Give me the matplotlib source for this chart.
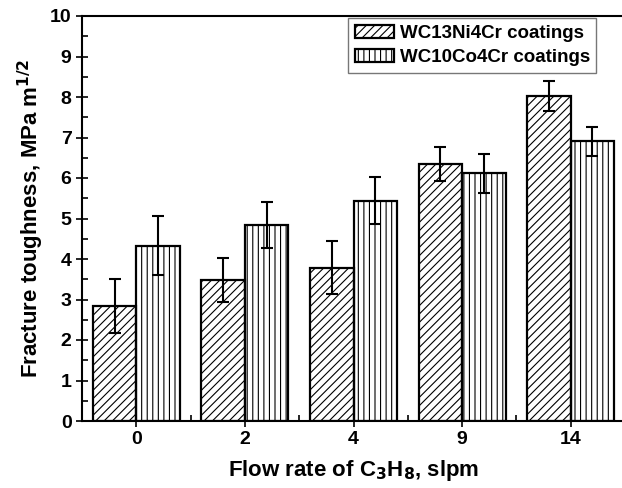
import numpy as np
import matplotlib
matplotlib.use("Agg")
import matplotlib.pyplot as plt
from matplotlib.ticker import MultipleLocator

plt.rcParams['font.family'] = ['Liberation Sans', 'DejaVu Sans']
plt.rcParams['font.weight'] = 'bold'
plt.rcParams['hatch.linewidth'] = 0.8

flow = ['0', '2', '4', '9', '14']
ni_vals = [2.84, 3.49, 3.79, 6.35, 8.02]
ni_err = [0.66, 0.54, 0.65, 0.42, 0.37]
co_vals = [4.33, 4.84, 5.44, 6.12, 6.91]
co_err = [0.72, 0.56, 0.58, 0.48, 0.36]

fig = plt.figure(figsize=(6.22, 4.88), dpi=100)
ax = fig.add_axes([82/622, 67/488, 543/622, 405/488])

x = np.arange(len(flow))
w = 0.4
ekw = dict(elinewidth=1.5, capthick=1.5, ecolor='black')
ax.bar(x - w/2, ni_vals, w, yerr=ni_err, capsize=4, fill=False, hatch='////',
       edgecolor='black', linewidth=1.6, error_kw=ekw, label='WC13Ni4Cr coatings')
ax.bar(x + w/2, co_vals, w, yerr=co_err, capsize=4, fill=False, hatch='|||',
       edgecolor='black', linewidth=1.6, error_kw=ekw, label='WC10Co4Cr coatings')

ax.set_xlim(-0.5, len(flow) - 0.5)
ax.set_ylim(0, 10)
ax.set_xticks(x)
ax.set_xticklabels(flow)
ax.xaxis.set_minor_locator(MultipleLocator(0.5))
ax.yaxis.set_major_locator(MultipleLocator(1))
ax.yaxis.set_minor_locator(MultipleLocator(0.5))
ax.tick_params(which='major', direction='inout', length=8, width=1.2, labelsize=14)
ax.tick_params(which='minor', direction='in', length=4, width=1.2)
for s in ax.spines.values():
    s.set_linewidth(1.5)

ax.set_xlabel('Flow rate of C$_\\mathbf{3}$H$_\\mathbf{8}$, slpm', fontsize=16, fontweight='bold', labelpad=7)
ax.set_ylabel('Fracture toughness, MPa m$^{\\mathbf{1/2}}$', fontsize=16, fontweight='bold', labelpad=3)

leg = ax.legend(loc='upper left', bbox_to_anchor=(266/543, 1 - 2/405), fontsize=13.5, frameon=True,
                fancybox=False, edgecolor='#555555', handlelength=2.1, handleheight=0.7,
                borderpad=0.35, labelspacing=0.4, handletextpad=0.3, borderaxespad=0)
leg.get_frame().set_linewidth(1.0)

fig.savefig('out.png', dpi=100)
